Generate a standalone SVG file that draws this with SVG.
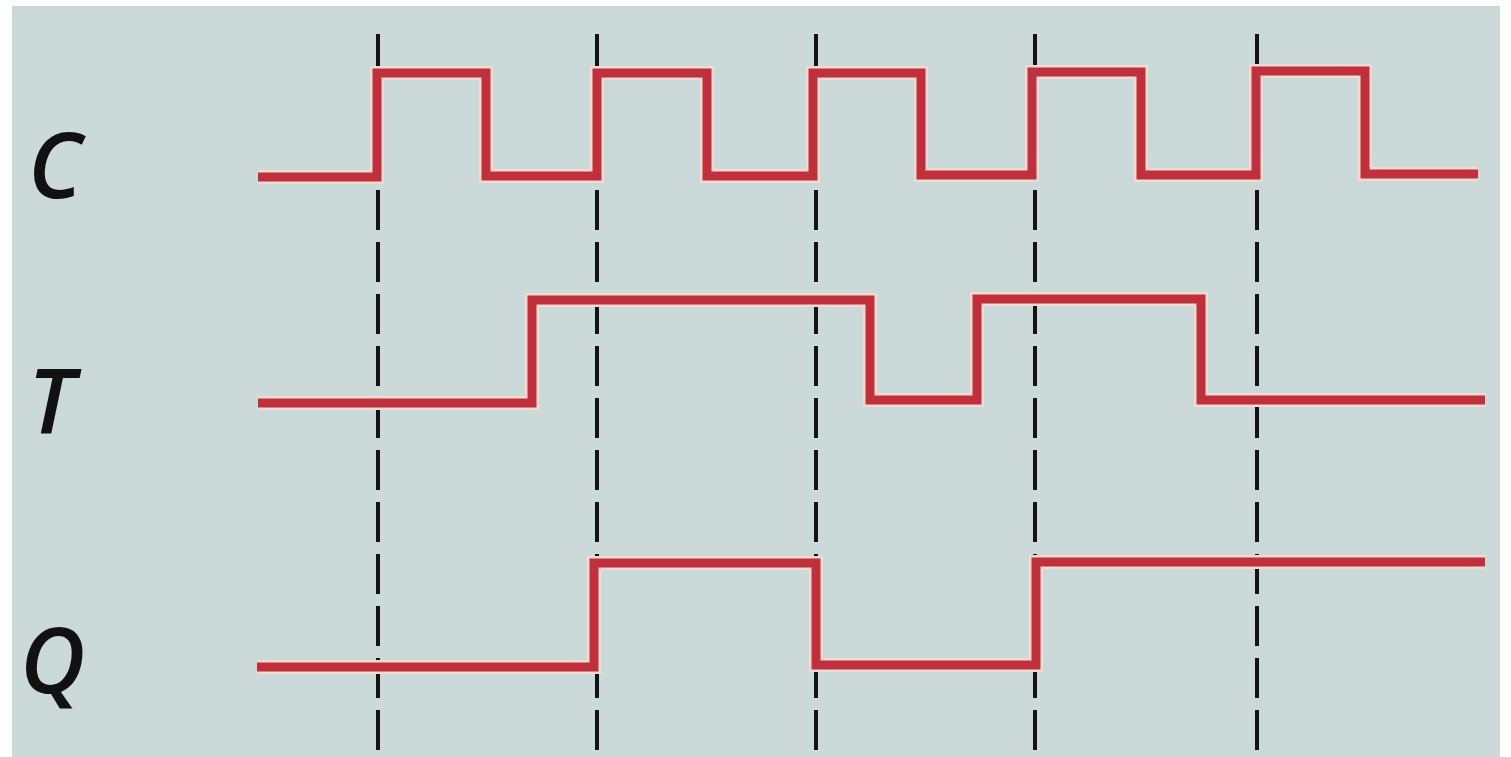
<svg xmlns="http://www.w3.org/2000/svg" width="1511" height="757" viewBox="0 0 1511 757">
<style>
.grid{stroke:#141414;stroke-width:4;stroke-dasharray:40 12;fill:none}
.halo{stroke:#f2d9d2;stroke-width:14;fill:none;stroke-linejoin:miter;stroke-linecap:butt}
.wave{stroke:#c0303c;stroke-width:9;fill:none;stroke-linejoin:miter;stroke-linecap:butt}
.lbl{font-family:"Open Sans","Noto Sans","Liberation Sans",sans-serif;font-style:italic;font-weight:600;font-size:90px;fill:#111}
</style>
<rect x="0" y="0" width="1511" height="757" fill="#ffffff"/>
<rect x="12" y="6" width="1488" height="751" fill="#cbd9d8"/>
<g id="labels">
<g id="label-C"><text class="lbl" x="28" y="198">C</text></g>
<g id="label-T"><text class="lbl" x="28" y="434">T</text></g>
<g id="label-Q"><text class="lbl" x="20" y="693">Q</text></g>
</g>
<g id="connectors">
<line class="grid" x1="378" y1="34" x2="378" y2="750"/>
<line class="grid" x1="597" y1="34" x2="597" y2="750"/>
<line class="grid" x1="816" y1="34" x2="816" y2="750"/>
<line class="grid" x1="1035" y1="34" x2="1035" y2="750"/>
<line class="grid" x1="1257" y1="34" x2="1257" y2="750"/>
</g>
<g id="wave-C">
<path class="halo" d="M258 177 H377 V73 H486 V176 H597 V73 H707 V176 H813 V73 H921 V175 H1032 V72 H1141 V175 H1256 V71 H1365 V174 H1478"/>
<path class="wave" d="M258 177 H377 V73 H486 V176 H597 V73 H707 V176 H813 V73 H921 V175 H1032 V72 H1141 V175 H1256 V71 H1365 V174 H1478"/>
</g>
<g id="wave-T">
<path class="halo" d="M258 403 H532 V300 H870 V400 H977 V299 H1201 V400 H1485"/>
<path class="wave" d="M258 403 H532 V300 H870 V400 H977 V299 H1201 V400 H1485"/>
</g>
<g id="wave-Q">
<path class="halo" d="M257 667 H594 V563 H816 V665 H1036 V562 H1485"/>
<path class="wave" d="M257 667 H594 V563 H816 V665 H1036 V562 H1485"/>
</g>
</svg>
